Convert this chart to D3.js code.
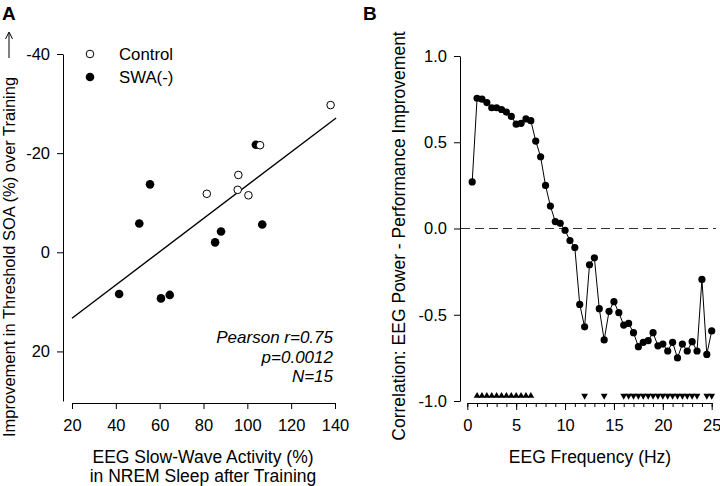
<!DOCTYPE html>
<html><head><meta charset="utf-8">
<script src="https://cdn.jsdelivr.net/npm/d3@7"></script>
<style>
body{margin:0;background:#fff;}
svg{font-family:"Liberation Sans",Arial,sans-serif;}
.tick text{font-size:16.5px;fill:#000;}
</style></head>
<body><svg id="c" width="720" height="486"></svg>
<script>
// ---- Panel A data ----
const controlSWA = [138, 105.8, 95.9, 81.5, 95.6, 100.5];
const controlImp = [-29.7, -21.6, -15.6, -11.8, -12.6, -11.5];
const swaMinusSWA = [103.9, 55.6, 50.7, 88.0, 106.8, 85.3, 41.5, 60.6, 64.6];
const swaMinusImp = [-21.7, -13.7, -5.8, -4.2, -5.6, -2.0, 8.4, 9.3, 8.6];
const fitX = [20, 140.5];
const fitY = [13.3, -27.1];
const aXTicks = [20, 40, 60, 80, 100, 120, 140];
const aYTicks = [-40, -20, 0, 20];
const statsText = ["Pearson r=0.75", "p=0.0012", "N=15"];
const legendLabels = ["Control", "SWA(-)"];

// ---- Panel B data ----
const freqHz = [0.5,1,1.5,2,2.5,3,3.5,4,4.5,5,5.5,6,6.5,7,7.5,8,8.5,9,9.5,10,
  10.5,11,11.5,12,12.5,13,13.5,14,14.5,15,15.5,16,16.5,17,17.5,18,18.5,19,19.5,20,
  20.5,21,21.5,22,22.5,23,23.5,24,24.5,25];
const corrR = [0.27,0.755,0.75,0.73,0.70,0.70,0.69,0.675,0.65,0.605,0.61,0.635,0.625,0.507,0.416,0.25,0.13,0.04,0.03,-0.01,
  -0.07,-0.11,-0.44,-0.57,-0.21,-0.17,-0.465,-0.646,-0.48,-0.424,-0.488,-0.56,-0.55,-0.604,-0.685,-0.66,-0.65,-0.604,-0.68,-0.67,
  -0.71,-0.66,-0.75,-0.67,-0.71,-0.656,-0.71,-0.295,-0.73,-0.594];
const sigPositive = [1,1.5,2,2.5,3,3.5,4,4.5,5,5.5,6,6.5];
const sigNegative = [12,14,16,16.5,17,17.5,18,18.5,19,19.5,20,20.5,21,21.5,22,22.5,23,23.5,24.5,25];
const bXTicks = [0,5,10,15,20,25];
const bXMinor = [0,1,2,3,4,5,6,7,8,9,10,11,12,13,14,15,16,17,18,19,20,21,22,23,24,25];
const bYTicks = [-1.0,-0.5,0.0,0.5,1.0];

const svg = d3.select("#c");
const hyph = f => d => f(d).replace("\u2212","-");

// ===== Panel A =====
const xA = d3.scaleLinear().domain([20,140]).range([72,335]);
const yA = d3.scaleLinear().domain([-40,30]).range([54,401]);

const gAx = svg.append("g").attr("transform","translate(0,403)")
  .call(d3.axisBottom(xA).tickValues(aXTicks).tickSize(6).tickSizeOuter(0).tickPadding(10).tickFormat(hyph(d3.format("d"))));
const gAy = svg.append("g").attr("transform","translate(63,0)")
  .call(d3.axisLeft(yA).tickValues(aYTicks).tickSize(6).tickSizeOuter(0).tickPadding(7).tickFormat(hyph(d3.format("d"))));
[gAx,gAy].forEach(g=>{g.selectAll("path,line").attr("stroke","#000");});

// fit line
svg.append("line")
  .attr("x1",xA(fitX[0])).attr("y1",yA(fitY[0]))
  .attr("x2",xA(fitX[1])).attr("y2",yA(fitY[1]))
  .attr("stroke","#000").attr("stroke-width",1.4);

// points
svg.append("g").selectAll("circle").data(swaMinusSWA).join("circle")
  .attr("cx",d=>xA(d)).attr("cy",(d,i)=>yA(swaMinusImp[i])).attr("r",4.3).attr("fill","#000");
svg.append("g").selectAll("circle").data(controlSWA).join("circle")
  .attr("cx",d=>xA(d)).attr("cy",(d,i)=>yA(controlImp[i])).attr("r",3.8)
  .attr("fill","#fff").attr("stroke","#000").attr("stroke-width",1);

// legend
svg.append("circle").attr("cx",90).attr("cy",54).attr("r",3.8).attr("fill","#fff").attr("stroke","#000");
svg.append("circle").attr("cx",90).attr("cy",77).attr("r",4.3).attr("fill","#000");
legendLabels.forEach((t,i)=>{
  svg.append("text").attr("x",119).attr("y",60+i*23).attr("font-size",16.8).text(t);
});

// stats
statsText.forEach((t,i)=>{
  svg.append("text").attr("x",333).attr("y",343+i*19.5).attr("text-anchor","end")
    .attr("font-size",17).attr("font-style","italic").text(t);
});

// titles A
svg.append("text").attr("x",203).attr("y",463).attr("text-anchor","middle").attr("font-size",17.5).text("EEG Slow-Wave Activity (%)");
svg.append("text").attr("x",203).attr("y",482).attr("text-anchor","middle").attr("font-size",17.5).text("in NREM Sleep after Training");
svg.append("text").attr("transform","translate(15,437) rotate(-90)").attr("text-anchor","start")
  .attr("font-size",16.5).text("Improvement in Threshold SOA (%) over Training");
// arrow
svg.append("line").attr("x1",9).attr("y1",58).attr("x2",9).attr("y2",33).attr("stroke","#000").attr("stroke-width",1);
svg.append("path").attr("d","M5.5,39 L9,32 L12.5,39").attr("fill","none").attr("stroke","#000").attr("stroke-width",1);
svg.append("text").attr("x",2).attr("y",20).attr("font-size",19).attr("font-weight","bold").text("A");

// ===== Panel B =====
const xB = d3.scaleLinear().domain([0,25]).range([467.3,711.7]);
const yB = d3.scaleLinear().domain([-1,1]).range([401,56]);

const gBmin = svg.append("g").attr("transform","translate(0,403)")
  .call(d3.axisBottom(xB).tickValues(bXMinor).tickSize(4).tickSizeOuter(0).tickFormat(""));
const gBx = svg.append("g").attr("transform","translate(0,403)")
  .call(d3.axisBottom(xB).tickValues(bXTicks).tickSize(7).tickSizeOuter(0).tickPadding(9).tickFormat(hyph(d3.format("d"))));
const gBy = svg.append("g").attr("transform","translate(460,0)")
  .call(d3.axisLeft(yB).tickValues(bYTicks).tickSize(6).tickSizeOuter(0).tickPadding(7).tickFormat(hyph(d3.format(".1f"))));
[gBmin,gBx,gBy].forEach(g=>{g.selectAll("path,line").attr("stroke","#000");});

// zero dashed line
svg.append("line").attr("x1",461).attr("x2",716).attr("y1",yB(0)).attr("y2",yB(0))
  .attr("stroke","#333").attr("stroke-width",1).attr("stroke-dasharray","9,5");

// series line
const lineB = d3.line().x(d=>xB(d[0])).y(d=>yB(d[1]));
svg.append("path").datum(freqHz.map((f,i)=>[f,corrR[i]]))
  .attr("d",lineB).attr("fill","none").attr("stroke","#000").attr("stroke-width",1);
svg.append("g").selectAll("circle").data(freqHz).join("circle")
  .attr("cx",d=>xB(d)).attr("cy",(d,i)=>yB(corrR[i])).attr("r",3.6).attr("fill","#000");

// significance triangles
const triY = yB(-0.97);
const up = d3.symbol().type(d3.symbolTriangle).size(20);
svg.append("g").selectAll("path").data(sigPositive).join("path")
  .attr("d",up).attr("transform",d=>`translate(${xB(d)},${triY})`).attr("fill","#000");
svg.append("g").selectAll("path").data(sigNegative).join("path")
  .attr("d",up).attr("transform",d=>`translate(${xB(d)},${triY}) rotate(180)`).attr("fill","#000");

// titles B
svg.append("text").attr("x",590).attr("y",463).attr("text-anchor","middle").attr("font-size",17.5).text("EEG Frequency (Hz)");
svg.append("text").attr("transform","translate(405,236) rotate(-90)").attr("text-anchor","middle")
  .attr("font-size",17.5).text("Correlation: EEG Power - Performance Improvement");
svg.append("text").attr("x",363).attr("y",20).attr("font-size",19).attr("font-weight","bold").text("B");
</script></body></html>
